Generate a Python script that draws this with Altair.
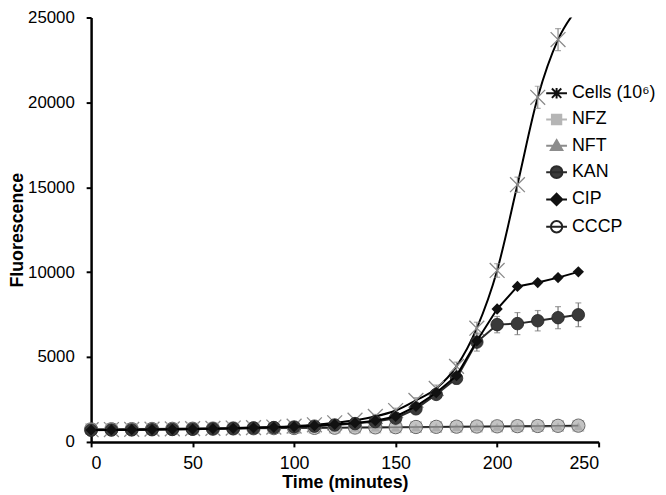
import altair as alt
import pandas as pd

# ---------------- data ----------------
times = [0, 10, 20, 30, 40, 50, 60, 70, 80, 90, 100, 110, 120, 130, 140, 150,
         160, 170, 180, 190, 200, 210, 220, 230, 240]

cells = [720, 730, 740, 755, 770, 785, 800, 820, 845, 875, 930, 1010, 1130, 1280,
         1500, 1850, 2450, 3150, 4450, 6700, 10100, 15150, 20300, 23700, 25600]
cells_err = [60, 60, 60, 60, 60, 60, 60, 70, 70, 70, 80, 90, 100, 110, 120, 140,
             160, 200, 250, 350, 400, 450, 650, 650, 200]

nfz = [760, 765, 770, 775, 780, 790, 795, 800, 810, 815, 820, 830, 840, 845, 850,
       860, 870, 880, 890, 900, 910, 920, 930, 940, 950]
nft = [750, 755, 762, 768, 775, 782, 790, 797, 805, 812, 820, 828, 836, 843, 850,
       858, 866, 874, 882, 890, 898, 906, 914, 922, 930]
kan = [690, 700, 710, 720, 735, 750, 770, 790, 815, 845, 880, 930, 1000, 1080,
       1200, 1400, 1950, 2800, 3750, 5880, 6910, 6970, 7140, 7320, 7490]
kan_err = [60, 60, 60, 60, 60, 60, 60, 70, 70, 70, 80, 80, 90, 100, 110, 130,
           180, 250, 350, 530, 480, 650, 600, 650, 700]
cip = [700, 710, 720, 730, 745, 760, 780, 800, 830, 860, 900, 960, 1030, 1120,
       1250, 1500, 2100, 2900, 3900, 5950, 7830, 9160, 9390, 9680, 10020]
cccp = [740, 748, 756, 764, 772, 780, 788, 796, 804, 812, 820, 830, 840, 850, 860,
        870, 880, 890, 900, 910, 920, 930, 940, 950, 960]

series_names = ["Cells (10\u2076)", "NFZ", "NFT", "KAN", "CIP", "CCCP"]
x_ticks = [0, 50, 100, 150, 200, 250]
y_ticks = [0, 5000, 10000, 15000, 20000, 25000]

# ---------------- tables ----------------
rows = []
for name, vals, errs in [
    (series_names[0], cells, cells_err),
    (series_names[1], nfz, None),
    (series_names[2], nft, None),
    (series_names[3], kan, kan_err),
    (series_names[4], cip, None),
    (series_names[5], cccp, None),
]:
    for i, t in enumerate(times):
        e = errs[i] if errs else 0
        rows.append({"series": name, "time": t, "value": vals[i],
                     "lo": vals[i] - e, "hi": vals[i] + e})
df = pd.DataFrame(rows)

FONT = "Liberation Sans"

xs = alt.Scale(domain=[0, 250], nice=False)
ys = alt.Scale(domain=[0, 25000], nice=False)

X = alt.X("time:Q", scale=xs,
          axis=alt.Axis(values=x_ticks, title="Time (minutes)", format="d",
                        labelPadding=8, titlePadding=1))
Y = alt.Y("value:Q", scale=ys,
          axis=alt.Axis(values=y_ticks, title="Fluorescence", format="d",
                        labelPadding=12, titlePadding=1, labelFontSize=17))

base = alt.Chart(df)


def sel(name):
    return base.transform_filter(alt.datum.series == name)


layers = []

# Cells
layers.append(sel(series_names[0]).mark_line(color="black", strokeWidth=2,
                                             interpolate="monotone", clip=True)
              .encode(x=X, y=Y))
layers.append(sel(series_names[0]).mark_rule(color="#8a8a8a", strokeWidth=1.2, clip=True)
              .encode(x="time:Q", y="lo:Q", y2="hi:Q"))
for fld in ["lo", "hi"]:
    layers.append(sel(series_names[0]).mark_tick(color="#8a8a8a", orient="horizontal",
                                                 size=6, thickness=1.2, clip=True)
                  .encode(x="time:Q", y=alt.Y(f"{fld}:Q")))
layers.append(sel(series_names[0]).mark_point(shape="M-1,-1L1,1M-1,1L1,-1", size=225,
                                              filled=False, stroke="#8a8a8a",
                                              strokeWidth=1.3, opacity=1, clip=True)
              .encode(x="time:Q", y="value:Q"))

# NFZ
layers.append(sel("NFZ").mark_line(color="#b5b5b5", strokeWidth=2).encode(x="time:Q", y="value:Q"))
layers.append(sel("NFZ").mark_point(shape="square", size=140, filled=True, color="#bdbdbd",
                                    opacity=1).encode(x="time:Q", y="value:Q"))
# NFT
layers.append(sel("NFT").mark_line(color="#8c8c8c", strokeWidth=2).encode(x="time:Q", y="value:Q"))
layers.append(sel("NFT").mark_point(shape="triangle-up", size=90, filled=True, color="#8c8c8c",
                                    opacity=1).encode(x="time:Q", y="value:Q"))
# CCCP
layers.append(sel("CCCP").mark_line(color="#222", strokeWidth=1.6).encode(x="time:Q", y="value:Q"))
layers.append(sel("CCCP").mark_point(shape="circle", size=180, filled=True, fill="#c8c8c8",
                                     fillOpacity=0.55, stroke="#666", strokeWidth=1,
                                     opacity=1).encode(x="time:Q", y="value:Q"))
# KAN
layers.append(sel("KAN").mark_line(color="#2a2a2a", strokeWidth=2).encode(x="time:Q", y="value:Q"))
layers.append(sel("KAN").mark_rule(color="#777", strokeWidth=1.2)
              .encode(x="time:Q", y="lo:Q", y2="hi:Q"))
for fld in ["lo", "hi"]:
    layers.append(sel("KAN").mark_tick(color="#777", orient="horizontal", size=6, thickness=1.2)
                  .encode(x="time:Q", y=alt.Y(f"{fld}:Q")))
layers.append(sel("KAN").mark_point(shape="circle", size=160, filled=True, fill="#3a3a3a",
                                    stroke="#222", strokeWidth=0.8, opacity=1)
              .encode(x="time:Q", y="value:Q"))
# CIP
layers.append(sel("CIP").mark_line(color="black", strokeWidth=2).encode(x="time:Q", y="value:Q"))
layers.append(sel("CIP").mark_point(shape="diamond", size=130, filled=True, color="#111",
                                    opacity=1).encode(x="time:Q", y="value:Q"))

# Legend (invisible marks carrying the legend)
stub = "M-1,0L1,0"
legend_shapes = [
    stub + "M-0.45,-0.45L0.45,0.45M-0.45,0.45L0.45,-0.45M0,-0.5L0,0.5",
    stub + "M-0.45,-0.45L0.45,-0.45L0.45,0.45L-0.45,0.45Z",
    stub + "M0,-0.55L0.55,0.4L-0.55,0.4Z",
    stub + "M0.57,0A0.57,0.57 0 1,1 -0.57,0A0.57,0.57 0 1,1 0.57,0Z",
    stub + "M0,-0.55L0.55,0L0,0.55L-0.55,0Z",
    stub + "M0.55,0A0.55,0.55 0 1,1 -0.55,0A0.55,0.55 0 1,1 0.55,0Z",
]
legend_fill = ["transparent", "#b5b5b5", "#8c8c8c", "#3a3a3a", "#111111", "white"]
legend_stroke = ["#111111", "#b5b5b5", "#8c8c8c", "#2a2a2a", "#111111", "#222222"]

leg = alt.Legend(orient="none", legendX=459, legendY=65, title=None,
                 symbolSize=441, symbolStrokeWidth=2, symbolOpacity=1,
                 labelFont=FONT, labelFontSize=18, labelColor="black",
                 labelOffset=4, rowPadding=5.6, padding=0)
first = base.transform_filter(alt.datum.time == 0)
layers.append(first.mark_point(filled=True, opacity=0).encode(
    x="time:Q", y="value:Q",
    shape=alt.Shape("series:N", sort=series_names,
                    scale=alt.Scale(domain=series_names, range=legend_shapes), legend=leg),
    fill=alt.Fill("series:N", sort=series_names,
                  scale=alt.Scale(domain=series_names, range=legend_fill), legend=leg),
    stroke=alt.Stroke("series:N", sort=series_names,
                      scale=alt.Scale(domain=series_names, range=legend_stroke), legend=leg),
))

chart = alt.layer(*layers).properties(
    width=513, height=429,
    autosize=alt.AutoSizeParams(type="none"),
    padding={"left": 84, "top": 7, "right": 60, "bottom": 50},
).configure_view(stroke=None).configure_axis(
    grid=False, domainColor="black", domainWidth=2.5, tickColor="black",
    tickWidth=2, tickSize=5, labelFont=FONT, labelFontSize=18, labelColor="black",
    titleFont=FONT, titleFontSize=18, titleFontWeight="bold", titleColor="black",
)

chart.save("out.html", embed_options={"renderer": "svg", "actions": False})
